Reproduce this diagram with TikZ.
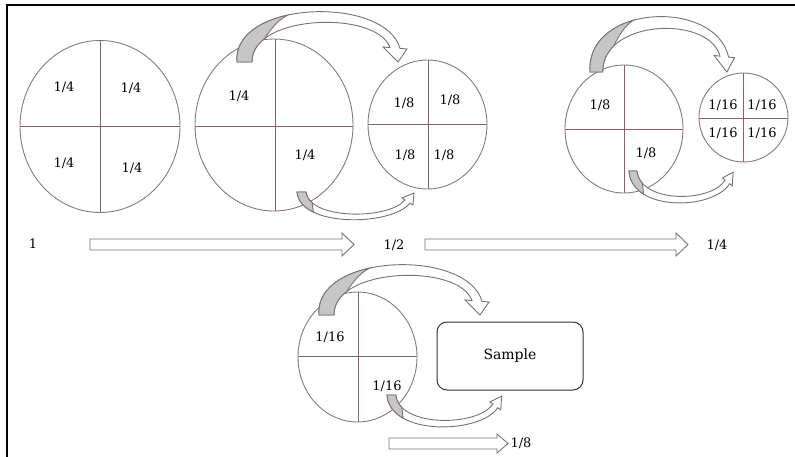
\documentclass[tikz,border=0pt]{standalone}
\usepackage{fontspec}
\setmainfont{DejaVu Serif}
\usepackage{tikz}

\definecolor{rimcol}{RGB}{140,118,118}
\definecolor{cutcol}{RGB}{138,96,96}
\definecolor{arrcol}{RGB}{125,112,112}
\definecolor{tailcol}{RGB}{198,198,198}

% curved block arrow over a circle, tail at (0,0)
\newcommand{\toparc}{%
\draw [arrcol, fill=white] (0,0) .. controls (-5,-62) and (148,-67) .. (163,-13.6) -- (170,-13) -- (161,0) -- (146,-15) -- (153,-14.4) .. controls (140,-52) and (14,-48) .. (15,0) -- cycle;
\draw [arrcol, fill=tailcol] (0,0) .. controls (-2,-24.8) and (21.3,-40.5) .. (50.9,-47) .. controls (40,-42) and (32,-30) .. (27.7,-23.5) .. controls (19.7,-17.4) and (14.8,-9.6) .. (15,0) -- cycle;
}
% curved block arrow under a circle, tail at (0,0)
\newcommand{\lowarc}{%
\draw [arrcol, fill=white] (0,0) .. controls (3,36) and (95,34) .. (113,11.1) -- (116,13) -- (117,1) -- (105,6) -- (108,7.9) .. controls (92,28) and (12,28) .. (9,0) -- cycle;
\draw [arrcol, fill=tailcol] (0,0) .. controls (0.75,9) and (7.06,15.6) .. (16.4,20.1) -- (15.1,10.7) .. controls (11.63,7.77) and (9.45,4.2) .. (9,0) -- cycle;
}

\begin{document}
\begin{tikzpicture}[x=1pt, y=-1pt, line width=0.9pt]
\tikzstyle{every node}+=[inner sep=0pt, font=\fontsize{13}{16}\selectfont]
\useasboundingbox (0,0) rectangle (795,457);
\draw [black, line width=1.6pt] (7,457) -- (7,5) -- (795,5);
% whole sample
\draw [rimcol] (100,126.5) ellipse [x radius=80, y radius=86];
\draw [cutcol] (20,126) -- (180,126);
\draw [cutcol] (100,40.5) -- (100,212.5);
\node (qa1) at (64,87) {1/4};
\node (qa2) at (131,88) {1/4};
\node (qa3) at (64,163) {1/4};
\node (qa4) at (132,168) {1/4};
% first split
\draw [rimcol] (274,125) ellipse [x radius=79, y radius=86];
\draw [cutcol] (195,126) -- (353,126);
\draw [cutcol] (275,39) -- (275,211);
\node (qb1) at (239,96) {1/4};
\node (qb2) at (305,155) {1/4};
\draw [rimcol] (427.5,124.5) ellipse [x radius=59.5, y radius=64.5];
\draw [cutcol] (368,124) -- (487,124);
\draw [cutcol] (428,60) -- (428,189);
\node (qc1) at (404,103) {1/8};
\node (qc2) at (450,100) {1/8};
\node (qc3) at (405,155) {1/8};
\node (qc4) at (444,155) {1/8};
% second split
\draw [rimcol] (624,129) ellipse [x radius=59, y radius=64];
\draw [cutcol] (565,129) -- (683,129);
\draw [cutcol] (624,65) -- (624,193);
\node (qd1) at (600,105) {1/8};
\node (qd2) at (646,153) {1/8};
\draw [rimcol] (743.5,117.5) ellipse [x radius=44.5, y radius=44.5];
\draw [cutcol] (699,118) -- (788,118);
\draw [cutcol] (743,73) -- (743,162);
\node (qe1) at (723,105) {1/16};
\node (qe2) at (762,105) {1/16};
\node (qe3) at (723,133) {1/16};
\node (qe4) at (762,133) {1/16};
% third split
\draw [rimcol] (357.5,357) ellipse [x radius=59.5, y radius=65];
\draw [cutcol] (298,356) -- (417,356);
\draw [cutcol] (358,292) -- (358,422);
\node (qf1) at (330,337) {1/16};
\node (qf2) at (387,386) {1/16};
\node [draw=black!80, line width=1pt, rounded corners=10pt, minimum width=146pt, minimum height=68pt, font=\fontsize{14}{17}\selectfont] (sample) at (510,356) {Sample};
% curved arrows
\begin{scope}[shift={(237,62)}] \toparc \end{scope}
\begin{scope}[shift={(590,72)}, xscale=0.85, yscale=1.1] \toparc \end{scope}
\begin{scope}[shift={(319,315)}] \toparc \end{scope}
\begin{scope}[shift={(297,192)}] \lowarc \end{scope}
\begin{scope}[shift={(629,171)}, xscale=0.89, yscale=1.15] \lowarc \end{scope}
\begin{scope}[shift={(387,395)}, xscale=0.98, yscale=1.15] \lowarc \end{scope}
% fractions along the way
\node (whole) at (33,244) {1};
\node (half) at (394,245) {1/2};
\node (quarter) at (717,245) {1/4};
\node (eighth) at (521,443) {1/8};
\draw [arrcol, fill=white] (90,239) -- (342,239) -- (342,233) -- (354,244.5) -- (342,256) -- (342,250) -- (90,250) -- cycle;
\draw [arrcol, fill=white] (425,239) -- (676,239) -- (676,233) -- (688,244.5) -- (676,256) -- (676,250) -- (425,250) -- cycle;
\draw [arrcol, fill=white] (389,438) -- (497,438) -- (497,434) -- (508,443.5) -- (497,453) -- (497,449) -- (389,449) -- cycle;
\end{tikzpicture}
\end{document}
